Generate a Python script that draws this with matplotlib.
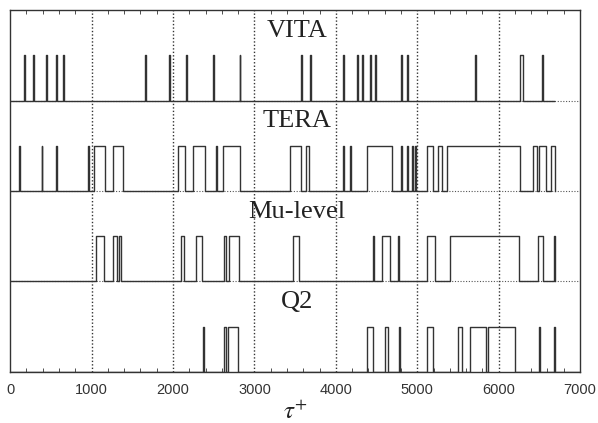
import numpy as np
from matplotlib import pyplot as plt

plt.rcParams['mathtext.fontset'] = 'stix'

# event intervals (start, end) in tau+ for each detector
vita_events = [(172, 184), (275, 287), (439, 451), (566, 578), (648, 660), (1652, 1664),
               (1956, 1968), (2161, 2173), (2488, 2500), (2817, 2829), (3567, 3579),
               (3682, 3694), (4092, 4104), (4256, 4268), (4326, 4338), (4416, 4428),
               (4477, 4489), (4805, 4817), (4879, 4891), (5711, 5723), (6261, 6302),
               (6528, 6540)]
tera_events = [(111, 123), (385, 397), (562, 574), (951, 963), (1025, 1161), (1259, 1382),
               (2058, 2152), (2242, 2395), (2530, 2542), (2612, 2817), (3432, 3567),
               (3629, 3665), (4088, 4100), (4174, 4186), (4387, 4686), (4797, 4809),
               (4871, 4883), (4932, 4944), (4973, 4985), (5117, 5195), (5261, 5302),
               (5371, 6261), (6425, 6466), (6491, 6580), (6640, 6690)]
mu_events = [(1054, 1148), (1259, 1312), (1341, 1361), (2100, 2132), (2284, 2358),
             (2624, 2653), (2686, 2809), (3473, 3547), (4457, 4469), (4572, 4666),
             (4769, 4781), (5117, 5215), (5404, 6252), (6486, 6540), (6683, 6695)]
q2_events = [(2370, 2382), (2624, 2645), (2678, 2801), (4379, 4457), (4604, 4646),
             (4777, 4789), (5117, 5195), (5506, 5547), (5650, 5843), (5875, 6199),
             (6498, 6510), (6675, 6687)]

names = ["VITA", "TERA", "Mu-level", "Q2"]
signal_ends = [6680, 6690, 6695, 7000]
x_ticks = [0, 1000, 2000, 3000, 4000, 5000, 6000, 7000]


def step_signal(events, base, height, end):
    xs = [0]
    ys = [base]
    for start, stop in events:
        xs += [start, start, stop, stop]
        ys += [base, base + height, base + height, base]
    xs.append(end)
    ys.append(base)
    return np.array(xs), np.array(ys)


fig = plt.figure(figsize=(5.98, 4.23), dpi=100)
ax = fig.add_axes([0.017, 0.121, 0.953, 0.855])

all_events = [vita_events, tera_events, mu_events, q2_events]
for i, (name, events) in enumerate(zip(names, all_events)):
    base = 3 - i
    xs, ys = step_signal(events, base, 0.5, signal_ends[i])
    ax.plot(xs, ys, color='#333333', lw=1.0)
    ax.text(3520, base + 0.77, name, ha='center', va='center',
            fontsize=19, family='Liberation Serif', color='#222222')

# dotted grid
for x in x_ticks[1:-1]:
    ax.axvline(x, color='#333333', lw=1.0, ls=(0, (1, 1.5)))
for y in [1, 2, 3]:
    ax.axhline(y, color='#555555', lw=0.8, ls=(0, (1, 1.5)), zorder=0)

ax.set_xlim(0, 7000)
ax.set_ylim(0, 4)
ax.set_yticks([])
ax.set_xticks(x_ticks)
ax.set_xticks(np.arange(0, 7001, 200), minor=True)
ax.tick_params(axis='x', which='both', direction='in', top=True, labelsize=10.5,
               colors='#333333', pad=8)
ax.tick_params(axis='x', which='major', length=0)
ax.tick_params(axis='x', which='minor', length=3)
for label in ax.get_xticklabels():
    label.set_family('Liberation Sans')
for spine in ax.spines.values():
    spine.set_color('#333333')
    spine.set_linewidth(1.0)

ax.set_xlabel(r'$\tau^{+}$', fontsize=18, labelpad=2, color='#222222')

plt.savefig('out.png', dpi=100)
